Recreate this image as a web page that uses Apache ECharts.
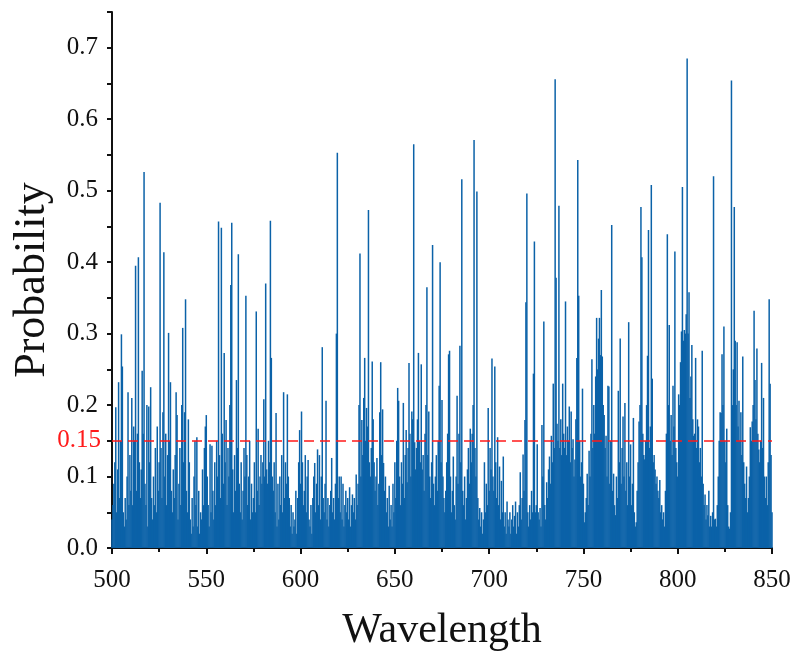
<!DOCTYPE html>
<html><head><meta charset="utf-8">
<script src="https://cdn.jsdelivr.net/npm/echarts@6/dist/echarts.min.js"></script>
<style>html,body{margin:0;padding:0;background:#fff}#c{width:795px;height:655px}</style>
</head><body><div id="c"></div>
<script>
// Wavelength axis
const wlStart = 500, wlStep = 0.5;
const xTicks = [500, 550, 600, 650, 700, 750, 800, 850];
const threshold = 0.15;
// Probability values, 0.5 nm steps, one array per 25 nm
const p500 = [0.04,0.06,0.09,0.12,0.197,0.05,0.11,0.232,0.07,0.15,0.299,0.254,0.05,0.03,0.07,0.04,0.1,0.218,0.06,0.13,0.08,0.21,0.06,0.17,0.15,0.395,0.08,0.16,0.407,0.12,0.07,0.11,0.248,0.16,0.526,0.09,0.06,0.2,0.03,0.198,0.12,0.225,0.07,0.04,0.1,0.06,0.14,0.05,0.17,0.08];
const p525 = [0.12,0.483,0.14,0.07,0.19,0.414,0.1,0.16,0.06,0.13,0.301,0.15,0.232,0.08,0.05,0.11,0.07,0.13,0.218,0.186,0.04,0.09,0.14,0.06,0.2,0.308,0.12,0.19,0.348,0.08,0.05,0.18,0.12,0.04,0.02,0.07,0.03,0.1,0.15,0.06,0.155,0.03,0.08,0.02,0.05,0.04,0.11,0.06,0.14,0.17];
const p550 = [0.186,0.1,0.06,0.03,0.145,0.05,0.143,0.08,0.04,0.12,0.06,0.15,0.1,0.457,0.13,0.07,0.448,0.16,0.09,0.273,0.12,0.179,0.06,0.14,0.1,0.2,0.368,0.455,0.11,0.05,0.13,0.08,0.235,0.14,0.411,0.09,0.05,0.12,0.04,0.08,0.14,0.1,0.353,0.13,0.06,0.1,0.15,0.04,0.09,0.05];
const p575 = [0.07,0.12,0.05,0.331,0.08,0.167,0.06,0.1,0.13,0.09,0.12,0.208,0.1,0.37,0.11,0.09,0.15,0.12,0.458,0.266,0.1,0.08,0.12,0.05,0.189,0.03,0.09,0.04,0.1,0.06,0.13,0.05,0.218,0.07,0.12,0.09,0.215,0.1,0.07,0.03,0.06,0.02,0.05,0.03,0.04,0.08,0.02,0.07,0.12,0.165];
const p600 = [0.09,0.191,0.12,0.06,0.08,0.13,0.05,0.1,0.123,0.04,0.03,0.06,0.02,0.07,0.1,0.119,0.05,0.09,0.138,0.06,0.13,0.04,0.1,0.281,0.07,0.05,0.09,0.206,0.04,0.07,0.03,0.06,0.08,0.126,0.05,0.07,0.04,0.09,0.3,0.553,0.07,0.1,0.05,0.1,0.04,0.09,0.03,0.06,0.08,0.05];
const p625 = [0.07,0.04,0.085,0.03,0.06,0.075,0.05,0.07,0.04,0.103,0.06,0.09,0.2,0.412,0.1,0.179,0.13,0.21,0.266,0.15,0.196,0.17,0.473,0.12,0.1,0.14,0.261,0.18,0.12,0.08,0.1,0.126,0.06,0.09,0.19,0.26,0.13,0.194,0.119,0.08,0.1,0.05,0.07,0.03,0.087,0.04,0.06,0.03,0.09,0.05];
const p650 = [0.12,0.07,0.15,0.224,0.206,0.1,0.06,0.12,0.09,0.203,0.07,0.13,0.165,0.092,0.14,0.259,0.16,0.1,0.191,0.18,0.565,0.148,0.11,0.14,0.18,0.273,0.15,0.12,0.257,0.11,0.13,0.08,0.16,0.2,0.365,0.13,0.191,0.1,0.07,0.12,0.424,0.09,0.06,0.1,0.13,0.08,0.15,0.227,0.4,0.12];
const p675 = [0.207,0.1,0.07,0.05,0.08,0.12,0.16,0.271,0.276,0.1,0.05,0.08,0.128,0.06,0.04,0.1,0.213,0.09,0.16,0.283,0.12,0.516,0.08,0.06,0.1,0.04,0.07,0.11,0.14,0.09,0.167,0.12,0.16,0.2,0.571,0.14,0.1,0.499,0.07,0.04,0.056,0.03,0.05,0.02,0.04,0.12,0.05,0.09,0.06,0.196];
const p700 = [0.08,0.14,0.11,0.265,0.1,0.08,0.254,0.12,0.07,0.155,0.06,0.114,0.04,0.094,0.05,0.128,0.03,0.05,0.02,0.065,0.04,0.03,0.05,0.02,0.04,0.06,0.03,0.045,0.065,0.02,0.05,0.03,0.06,0.106,0.04,0.07,0.131,0.08,0.179,0.344,0.496,0.05,0.03,0.06,0.04,0.08,0.05,0.244,0.429,0.05];
const p725 = [0.06,0.145,0.05,0.04,0.056,0.03,0.172,0.1,0.317,0.06,0.04,0.092,0.07,0.11,0.128,0.09,0.157,0.12,0.23,0.14,0.656,0.378,0.174,0.15,0.479,0.14,0.18,0.13,0.23,0.16,0.14,0.345,0.13,0.17,0.15,0.198,0.12,0.191,0.14,0.152,0.1,0.124,0.18,0.266,0.543,0.353,0.15,0.1,0.12,0.223];
const p750 = [0.09,0.036,0.05,0.07,0.104,0.06,0.136,0.1,0.16,0.264,0.14,0.2,0.16,0.24,0.322,0.25,0.293,0.322,0.27,0.361,0.268,0.2,0.186,0.14,0.157,0.1,0.227,0.226,0.09,0.15,0.452,0.08,0.104,0.06,0.046,0.1,0.07,0.22,0.12,0.293,0.09,0.14,0.184,0.1,0.203,0.08,0.12,0.06,0.316,0.1];
const p775 = [0.145,0.06,0.09,0.182,0.05,0.03,0.036,0.08,0.12,0.177,0.2,0.477,0.407,0.16,0.13,0.124,0.15,0.2,0.269,0.445,0.14,0.17,0.508,0.237,0.12,0.13,0.11,0.09,0.1,0.08,0.07,0.095,0.05,0.06,0.04,0.05,0.03,0.08,0.16,0.439,0.2,0.312,0.15,0.186,0.13,0.227,0.17,0.415,0.14,0.12];
const p800 = [0.1,0.215,0.2,0.26,0.303,0.505,0.29,0.305,0.3,0.327,0.685,0.3,0.358,0.21,0.24,0.284,0.18,0.157,0.16,0.266,0.14,0.18,0.17,0.12,0.14,0.1,0.276,0.09,0.06,0.075,0.04,0.06,0.046,0.08,0.03,0.045,0.03,0.05,0.52,0.04,0.041,0.03,0.06,0.1,0.15,0.19,0.189,0.271,0.2,0.31];
const p825 = [0.15,0.12,0.167,0.06,0.03,0.027,0.05,0.654,0.2,0.25,0.477,0.29,0.2,0.288,0.17,0.206,0.15,0.19,0.13,0.268,0.12,0.09,0.07,0.114,0.05,0.07,0.1,0.169,0.15,0.177,0.2,0.332,0.235,0.18,0.279,0.16,0.138,0.12,0.15,0.259,0.14,0.21,0.1,0.07,0.1,0.06,0.12,0.348,0.23,0.13];
const p850 = [0.05];

const probs = [].concat(p500,p525,p550,p575,p600,p625,p650,p675,p700,p725,p750,p775,p800,p825,p850);
const data = probs.map((v, i) => [wlStart + i * wlStep, v]);

const chart = echarts.init(document.getElementById('c'), null, {renderer: 'canvas'});
const serif = '"Liberation Serif","Times New Roman",serif';
chart.setOption({
  animation: false,
  backgroundColor: '#ffffff',
  grid: {left: 112, right: 23, top: 12, bottom: 107, containLabel: false, outerBoundsMode: 'none'},
  xAxis: {
    type: 'value', min: 500, max: 850, interval: 50,
    name: 'Wavelength', nameLocation: 'middle', nameGap: 62,
    nameTextStyle: {fontFamily: serif, fontSize: 42, color: '#111'},
    axisLine: {show: true, onZero: false, lineStyle: {color: '#111', width: 2}},
    axisTick: {show: true, inside: false, length: 6, lineStyle: {color: '#111', width: 2}},
    minorTick: {show: true, splitNumber: 2, length: 4, lineStyle: {color: '#111', width: 2}},
    axisLabel: {fontFamily: serif, fontSize: 25, color: '#111', margin: 20,
      formatter: v => xTicks.includes(v) ? String(v) : ''},
    splitLine: {show: false}
  },
  yAxis: {
    type: 'value', min: 0, max: 0.75, interval: 0.05,
    name: 'Probability', nameLocation: 'middle', nameGap: 58,
    nameTextStyle: {fontFamily: serif, fontSize: 44, color: '#111'},
    axisLine: {show: true, onZero: false, lineStyle: {color: '#111', width: 2}},
    axisTick: {show: true, inside: false, length: 5, lineStyle: {color: '#111', width: 2}},
    axisLabel: {fontFamily: serif, fontSize: 25, color: '#111', margin: 14,
      formatter: v => (Math.round(v * 100) % 10 === 0 && v < 0.72) ? v.toFixed(1) : ''},
    splitLine: {show: false}
  },
  series: [{
    type: 'bar',
    data: data,
    barWidth: 1.5,
    itemStyle: {color: '#0b62a8'},
    markLine: {
      silent: true, symbol: 'none', animation: false,
      lineStyle: {color: '#ff1a1a', type: [10, 6], width: 1.6},
      label: {show: true, position: 'start', formatter: () => threshold.toFixed(2),
        color: '#ff1a1a', fontFamily: serif, fontSize: 25, distance: 11},
      data: [{yAxis: threshold}]
    }
  }]
});
</script></body></html>
